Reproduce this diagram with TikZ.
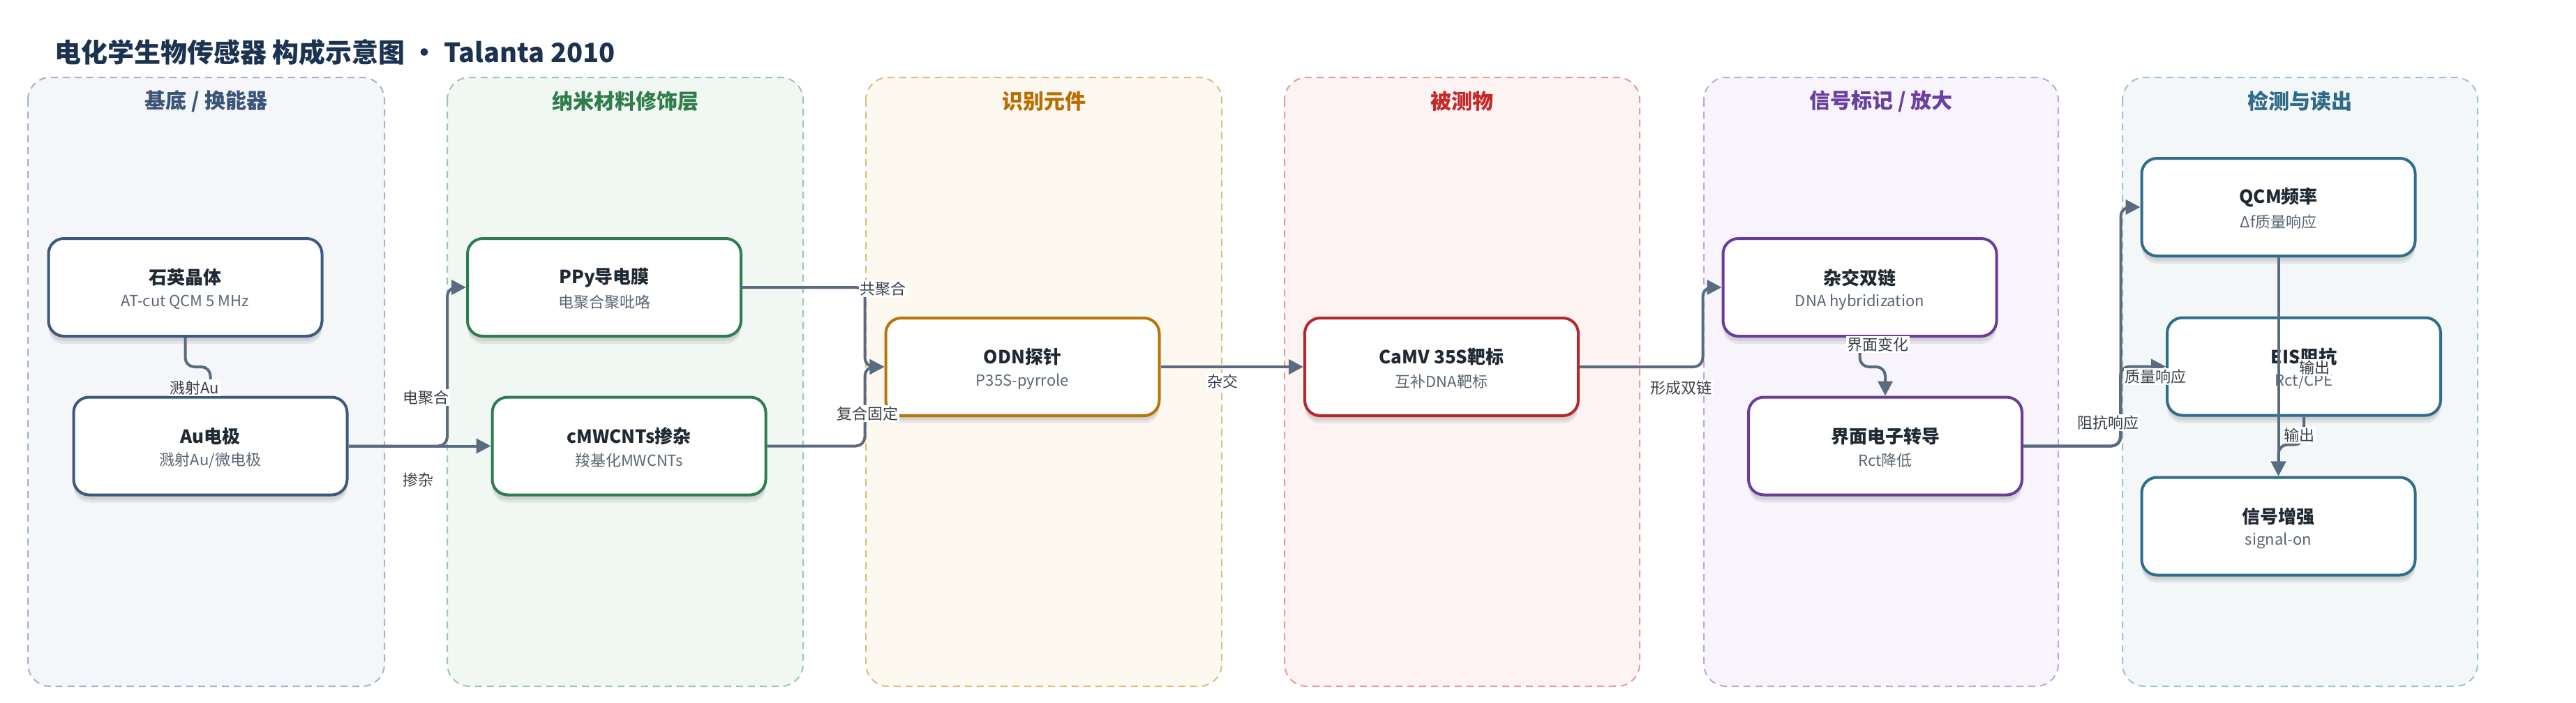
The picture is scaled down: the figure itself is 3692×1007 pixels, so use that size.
\documentclass[tikz,border=0pt]{standalone}
\usepackage{fontspec}
\setmainfont{Noto Sans CJK SC}
\usetikzlibrary{arrows.meta,shadows}
\definecolor{titlec}{HTML}{1B3350}
\definecolor{ttlc}{HTML}{1F2933}
\definecolor{subc}{HTML}{5B6675}
\definecolor{edgec}{HTML}{5A6B80}
\definecolor{lblc}{HTML}{3A3F47}
\definecolor{laneAf}{HTML}{F4F6FA}\definecolor{laneAd}{HTML}{A3B3C9}\definecolor{laneAt}{HTML}{3B5478}\definecolor{nodeA}{HTML}{3C5A80}
\definecolor{laneBf}{HTML}{F1F8F3}\definecolor{laneBd}{HTML}{9CC8A9}\definecolor{laneBt}{HTML}{2E7D4B}\definecolor{nodeB}{HTML}{2E7D4F}
\definecolor{laneCf}{HTML}{FDF8F0}\definecolor{laneCd}{HTML}{E2BB7C}\definecolor{laneCt}{HTML}{B86E00}\definecolor{nodeC}{HTML}{B8740A}
\definecolor{laneDf}{HTML}{FDF3F3}\definecolor{laneDd}{HTML}{E29C9C}\definecolor{laneDt}{HTML}{C62828}\definecolor{nodeD}{HTML}{B7282A}
\definecolor{laneEf}{HTML}{F7F4FB}\definecolor{laneEd}{HTML}{BFA6DD}\definecolor{laneEt}{HTML}{6A3FA0}\definecolor{nodeE}{HTML}{6A3D9A}
\definecolor{laneFf}{HTML}{F3F7F8}\definecolor{laneFd}{HTML}{9DC3D2}\definecolor{laneFt}{HTML}{2E6A8A}\definecolor{nodeF}{HTML}{2E6D8E}
\tikzset{
  lanebox/.style={line width=2pt, dash pattern=on 10pt off 7pt, rounded corners=32pt},
  lanetitle/.style={font=\bfseries\fontsize{30}{34}\selectfont, anchor=center},
  shlayer/.style={general shadow={shadow xshift=0pt, shadow yshift=-#1, fill=black, opacity=0.07}},
  box/.style={rectangle, rounded corners=22pt, minimum width=392pt, minimum height=140pt, line width=4pt, fill=white, shlayer=3pt, shlayer=7pt, shlayer=11pt},
  ttl/.style={font=\bfseries\fontsize{26}{30}\selectfont, text=ttlc, inner sep=0pt},
  subt/.style={font=\fontsize{22}{26}\selectfont, text=subc, inner sep=0pt},
  edge/.style={line width=4pt, draw=edgec, rounded corners=13pt},
  arr/.style={-{Triangle[length=21pt,width=21pt]}},
  lbl/.style={font=\fontsize{22}{26}\selectfont, text=lblc, fill=white, inner sep=1.5pt}
}
\newcommand{\mkbox}[6]{%
  \node[box, draw=#4] (#1) at (#2,#3) {};
  \node[ttl] (#1-t) at ([yshift=14pt]#1.center) {#5};
  \node[subt] (#1-s) at ([yshift=-21pt]#1.center) {#6};
}
\begin{document}
\begin{tikzpicture}[x=1pt,y=-1pt]
\useasboundingbox (0,0) rectangle (3692,1007);
\fill[white] (0,0) rectangle (3692,1007);
% title
\node[anchor=west, font=\bfseries\fontsize{38}{42}\selectfont, text=titlec, inner sep=0pt] (title) at (78,75) {电化学生物传感器 构成示意图 · Talanta 2010};
% lanes
\draw[lanebox, fill=laneAf, draw=laneAd] (40,111) rectangle (551,984);
\draw[lanebox, fill=laneBf, draw=laneBd] (641,111) rectangle (1151,984);
\draw[lanebox, fill=laneCf, draw=laneCd] (1241,111) rectangle (1751,984);
\draw[lanebox, fill=laneDf, draw=laneDd] (1841,111) rectangle (2350,984);
\draw[lanebox, fill=laneEf, draw=laneEd] (2442,111) rectangle (2950,984);
\draw[lanebox, fill=laneFf, draw=laneFd] (3042,111) rectangle (3551,984);
\node[lanetitle, text=laneAt] (h1) at (295.5,145) {基底 / 换能器};
\node[lanetitle, text=laneBt] (h2) at (896,145) {纳米材料修饰层};
\node[lanetitle, text=laneCt] (h3) at (1496,145) {识别元件};
\node[lanetitle, text=laneDt] (h4) at (2095.5,145) {被测物};
\node[lanetitle, text=laneEt] (h5) at (2696,145) {信号标记 / 放大};
\node[lanetitle, text=laneFt] (h6) at (3296.5,145) {检测与读出};
% nodes
\mkbox{quartz}{265.5}{412}{nodeA}{石英晶体}{AT-cut QCM 5 MHz}
\mkbox{au}{301.5}{639.5}{nodeA}{Au电极}{溅射Au/微电极}
\mkbox{ppy}{866}{412}{nodeB}{PPy导电膜}{电聚合聚吡咯}
\mkbox{cmw}{901.5}{639.5}{nodeB}{cMWCNTs掺杂}{羧基化MWCNTs}
\mkbox{odn}{1465.5}{526}{nodeC}{ODN探针}{P35S-pyrrole}
\mkbox{camv}{2066}{526}{nodeD}{CaMV 35S靶标}{互补DNA靶标}
\mkbox{hyb}{2665.5}{412}{nodeE}{杂交双链}{DNA hybridization}
\mkbox{iet}{2702}{639.5}{nodeE}{界面电子转导}{Rct降低}
\mkbox{qcm}{3265.5}{297}{nodeF}{QCM频率}{Δf质量响应}
\mkbox{eis}{3302}{525.5}{nodeF}{EIS阻抗}{Rct/CPE}
\mkbox{sig}{3265.5}{754.5}{nodeF}{信号增强}{signal-on}
% edges
\draw[edge, arr] (quartz.south) -- ++(0,42) -| (au.north);
\draw[edge, arr] (au.east) -| ([xshift=-27pt]ppy.west) -- (ppy.west);
\draw[edge, arr] (au.east) -- (cmw.west);
\draw[edge, arr] (ppy.east) -| ([xshift=-28pt]odn.west) -- (odn.west);
\draw[edge, arr] (cmw.east) -| ([xshift=-28pt]odn.west) -- (odn.west);
\draw[edge, arr] (odn.east) -- (camv.west);
\draw[edge, arr] (camv.east) -| ([xshift=-27pt]hyb.west) -- (hyb.west);
\draw[edge, arr] (hyb.south) -- ++(0,42) -| (iet.north);
\draw[edge, arr] (iet.east) -| ([xshift=-28pt]qcm.west) -- (qcm.west);
\draw[edge, arr] (iet.east) -| ([xshift=-65pt]eis.west) -- (eis.west);
\draw[edge, arr] (qcm.south) -- (sig.north);
\draw[edge, arr] (eis.south) -- ++(0,40) -| (sig.north);
% edge labels
\node[lbl] (l1) at (279,556) {溅射Au};
\node[lbl] (l2) at (610,570) {电聚合};
\node[lbl] (l3) at (599,688) {掺杂};
\node[lbl] (l4) at (1265,414) {共聚合};
\node[lbl] (l5) at (1243,593) {复合固定};
\node[lbl] (l6) at (1752,547) {杂交};
\node[lbl] (l7) at (2409,556) {形成双链};
\node[lbl] (l8) at (2691,494) {界面变化};
\node[lbl] (l9) at (3021,606) {阻抗响应};
\node[lbl] (l10) at (3089,540) {质量响应};
\node[lbl] (l11) at (3317,527) {输出};
\node[lbl] (l12) at (3295,624) {输出};
\end{tikzpicture}
\end{document}
